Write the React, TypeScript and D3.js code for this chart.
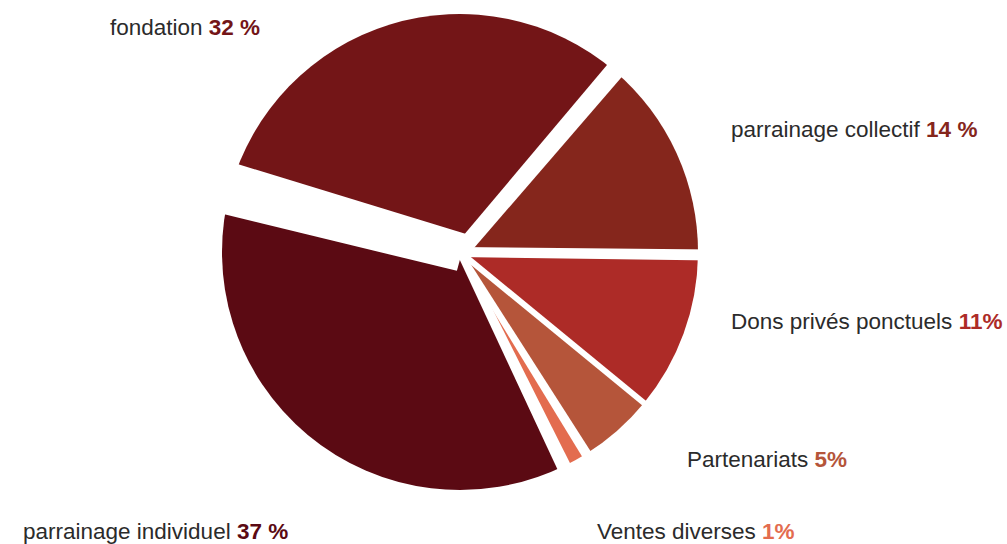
import * as React from 'react';
import * as d3 from 'd3';

const width = 1007;
const height = 544;

const categories = ['fondation', 'parrainage collectif', 'Dons privés ponctuels', 'Partenariats', 'Ventes diverses', 'parrainage individuel'];
const shares = [32, 14, 11, 5, 1, 37];
const shareLabels = ['32 %', '14 %', '11%', '5%', '1%', '37 %'];
const colors = ['#731517', '#85261c', '#ad2b27', '#b5553a', '#e36c4f', '#5b0a13'];

// white gap after each slice: width at the rim and at the centre (px)
const gapOuter = [19, 11, 6, 10, 14, 52];
const gapInner = [16, 10, 6, 5, 7, 38];

// label anchors (left x, baseline y)
const labelPos: [number, number][] = [[110, 35], [731, 137], [731, 329], [687, 467], [597, 539], [23, 539]];

const cx = 460;
const cy = 252;
const R = 238;
const startAngle = (291.6 * Math.PI) / 180;

export default function App() {
  const gapAngles = gapOuter.map(g => g / R);
  const avail = 2 * Math.PI - d3.sum(gapAngles);

  const pie = d3.pie<number>().sort(null).startAngle(startAngle).endAngle(startAngle + avail);
  const arcs = pie(shares);

  // shift each slice by the gaps that come before it, then find the boundary angles
  const cum = gapAngles.map((_, i) => d3.sum(gapAngles.slice(0, i)));
  const boundary = arcs.map((a, i) => a.endAngle + cum[i] + gapAngles[i] / 2);
  const firstStart = startAngle - gapAngles[gapAngles.length - 1] / 2;

  const arc = d3.arc<{startAngle: number; endAngle: number}>().innerRadius(0).outerRadius(R);

  const sectors = arcs.map((_, i) => ({
    startAngle: i === 0 ? firstStart : boundary[i - 1],
    endAngle: boundary[i],
  }));

  const line = d3.line();
  const strips = boundary.map((b, i) => {
    const u = [Math.sin(b), -Math.cos(b)];
    const n = [Math.cos(b), Math.sin(b)];
    const half = (r: number) => gapInner[i] / 2 + ((gapOuter[i] - gapInner[i]) / 2) * Math.max(r, 0) / R;
    const pt = (r: number, s: number): [number, number] => [u[0] * r + n[0] * s, u[1] * r + n[1] * s];
    const r0 = -2;
    const r1 = R + 15;
    return line([pt(r0, half(r0)), pt(r1, half(r1)), pt(r1, -half(r1)), pt(r0, -half(r0))]) + 'Z';
  });

  return (
    <svg width={width} height={height} style={{position: 'absolute', left: 0, top: 0, background: '#fff'}}
      fontFamily="'Liberation Sans', Arial, sans-serif">
      <g transform={`translate(${cx},${cy})`}>
        {sectors.map((s, i) => (
          <path key={categories[i]} d={arc(s) || ''} fill={colors[i]} />
        ))}
        {strips.map((d, i) => (
          <path key={'gap' + i} d={d} fill="#fff" />
        ))}
      </g>
      {categories.map((c, i) => (
        <text key={c} x={labelPos[i][0]} y={labelPos[i][1]} fontSize={22.5} fill="#2b2b2b">
          {c + ' '}
          <tspan fontWeight="bold" fill={colors[i]}>{shareLabels[i]}</tspan>
        </text>
      ))}
    </svg>
  );
}
